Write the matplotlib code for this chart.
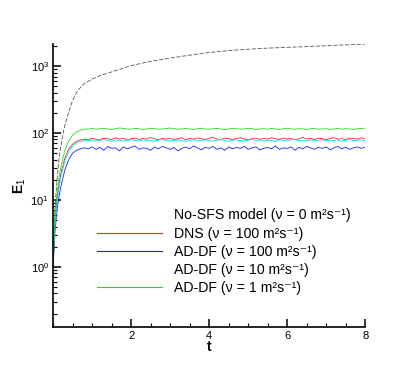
import numpy as np
import matplotlib
matplotlib.use('Agg')
from matplotlib import pyplot as plt
from matplotlib.ticker import MultipleLocator, LogLocator, NullFormatter

plt.rcParams['font.family'] = ['Liberation Sans', 'DejaVu Sans']
plt.rcParams['mathtext.fontset'] = 'custom'
plt.rcParams['mathtext.rm'] = 'Liberation Sans'
plt.rcParams['mathtext.it'] = 'Liberation Sans:italic'
plt.rcParams['mathtext.bf'] = 'Liberation Sans:bold'

# No-SFS model (smooth growth)
t_nosfs = [0.0, 0.02, 0.05, 0.1, 0.15, 0.2, 0.25, 0.3, 0.4, 0.5, 0.6, 0.7, 0.8, 1.0,
           1.2, 1.5, 2.0, 2.5, 3.0, 3.5, 4.0, 4.5, 5.0, 5.5, 6.0, 6.5, 7.0, 7.5, 8.0]
e_nosfs = [1.2, 2.0, 8, 20, 40, 65, 95, 130, 205, 310, 400, 480, 550, 640,
           720, 820, 1020, 1180, 1320, 1460, 1600, 1710, 1790, 1860, 1910, 1960, 2020, 2080, 2140]

# time axis for the other runs
t_rise = [0.0, 0.02, 0.05, 0.1, 0.15, 0.2, 0.3, 0.4, 0.5, 0.6, 0.7, 0.8]
t_plat = np.round(np.arange(0.9, 8.001, 0.1), 2)
t_run = np.concatenate([t_rise, t_plat])

dns_rise = [1.2, 2.2, 5, 10, 17, 25, 42, 58, 68, 75, 79, 81]
dns_plat = [80, 83, 81, 79, 84, 82, 80, 85, 81, 83,
            78, 82, 84, 80, 83, 81, 86, 82, 79, 83,
            81, 84, 80, 82, 85, 79, 83, 81, 84, 82,
            80, 83, 86, 81, 79, 84, 82, 80, 83, 85,
            81, 79, 82, 84, 80, 83, 81, 85, 82, 80,
            84, 81, 83, 79, 82, 86, 81, 83, 80, 84,
            82, 79, 83, 85, 81, 82, 80, 84, 83, 81,
            85, 82]

ad100_rise = [1.0, 1.6, 3.5, 7, 11, 16, 28, 40, 50, 55, 58, 60]
ad100_plat = [58, 62, 57, 61, 55, 63, 59, 60, 54, 62,
              58, 61, 64, 57, 60, 59, 55, 62, 58, 63,
              60, 57, 61, 54, 59, 62, 58, 64, 60, 56,
              61, 59, 63, 57, 60, 55, 62, 58, 61, 59,
              63, 57, 60, 62, 56, 59, 61, 58, 64, 57,
              60, 59, 62, 55, 61, 58, 63, 60, 57, 61,
              59, 62, 56, 60, 63, 58, 61, 57, 60, 62,
              59, 61]

ad10_rise = [1.1, 2.0, 4.5, 9, 15, 22, 38, 53, 64, 71, 75, 77]
ad10_plat = [77, 79, 76, 78, 80, 77, 75, 79, 78, 76,
             78, 80, 77, 76, 79, 77, 78, 75, 79, 80,
             77, 76, 78, 79, 77, 75, 78, 80, 76, 78,
             79, 77, 76, 78, 80, 77, 75, 78, 79, 77,
             76, 78, 80, 77, 79, 76, 78, 77, 75, 79,
             78, 76, 79, 80, 77, 78, 76, 79, 77, 78,
             80, 76, 78, 77, 79, 75, 78, 80, 77, 78,
             79, 77]

ad1_rise = [1.3, 2.5, 6, 13, 21, 31, 55, 76, 93, 104, 110, 114]
ad1_plat = [115, 117, 114, 116, 118, 115, 113, 116, 119, 117,
            115, 114, 117, 116, 113, 115, 118, 116, 114, 115,
            117, 119, 116, 114, 115, 117, 115, 113, 116, 118,
            115, 114, 116, 117, 115, 112, 115, 117, 116, 114,
            115, 118, 116, 113, 115, 116, 114, 117, 115, 113,
            116, 118, 115, 114, 116, 115, 113, 116, 117, 114,
            115, 116, 113, 115, 117, 114, 116, 115, 113, 116,
            117, 118]

labels = ['No-SFS model (ν = 0 m²s⁻¹)',
          'DNS (ν = 100 m²s⁻¹)',
          'AD-DF (ν = 100 m²s⁻¹)',
          'AD-DF (ν = 10 m²s⁻¹)',
          'AD-DF (ν = 1 m²s⁻¹)']

fig = plt.figure(figsize=(4.15, 3.69), dpi=100)
ax = fig.add_axes([0.128, 0.114, 0.752, 0.767])

ax.plot(t_nosfs, e_nosfs, color='#555555', lw=0.6, dashes=(5, 2), label=labels[0])
ax.plot(t_run, dns_rise + dns_plat, color='#ff2020', lw=0.6, label=labels[1])
ax.plot(t_run, ad100_rise + ad100_plat, color='#2020ff', lw=0.6, label=labels[2])
ax.plot(t_run, ad10_rise + ad10_plat, color='#00e8e8', lw=0.6, label=labels[3])
ax.plot(t_run, ad1_rise + ad1_plat, color='#20dd20', lw=0.6, label=labels[4])

ax.set_yscale('log')
ax.set_xlim(0, 8)
ax.set_ylim(0.126, 2150)
ax.set_xticks([2, 4, 6, 8])
ax.xaxis.set_minor_locator(MultipleLocator(0.5))
ax.yaxis.set_major_locator(LogLocator(base=10, numticks=10))
ax.yaxis.set_minor_locator(LogLocator(base=10, subs=np.arange(2, 10), numticks=10))
ax.yaxis.set_minor_formatter(NullFormatter())

for s in ['top', 'right']:
    ax.spines[s].set_visible(False)
for s in ['left', 'bottom']:
    ax.spines[s].set_linewidth(1.2)

ax.tick_params(which='major', direction='in', length=6, width=1.1, labelsize=8, pad=3)
ax.tick_params(which='minor', direction='in', length=3, width=0.8)

ax.set_xlabel('t', fontsize=10, fontweight='bold')
ax.set_ylabel(r'E$_1$', fontsize=10, fontweight='bold')
ax.xaxis.set_label_coords(0.5, -0.045)
ax.yaxis.set_label_coords(-0.08, 0.5)

leg = ax.legend(loc='upper left', bbox_to_anchor=(0.234, 0.435),
                bbox_transform=fig.transFigure, frameon=False, fontsize=10.2,
                handlelength=4.6, handletextpad=0.8, labelspacing=0.29,
                borderpad=0, borderaxespad=0)
for i in (0, 3):
    leg.legend_handles[i].set_visible(False)
for h in leg.legend_handles:
    h.set_linewidth(0.8)

fig.savefig('out.png', dpi=100)
